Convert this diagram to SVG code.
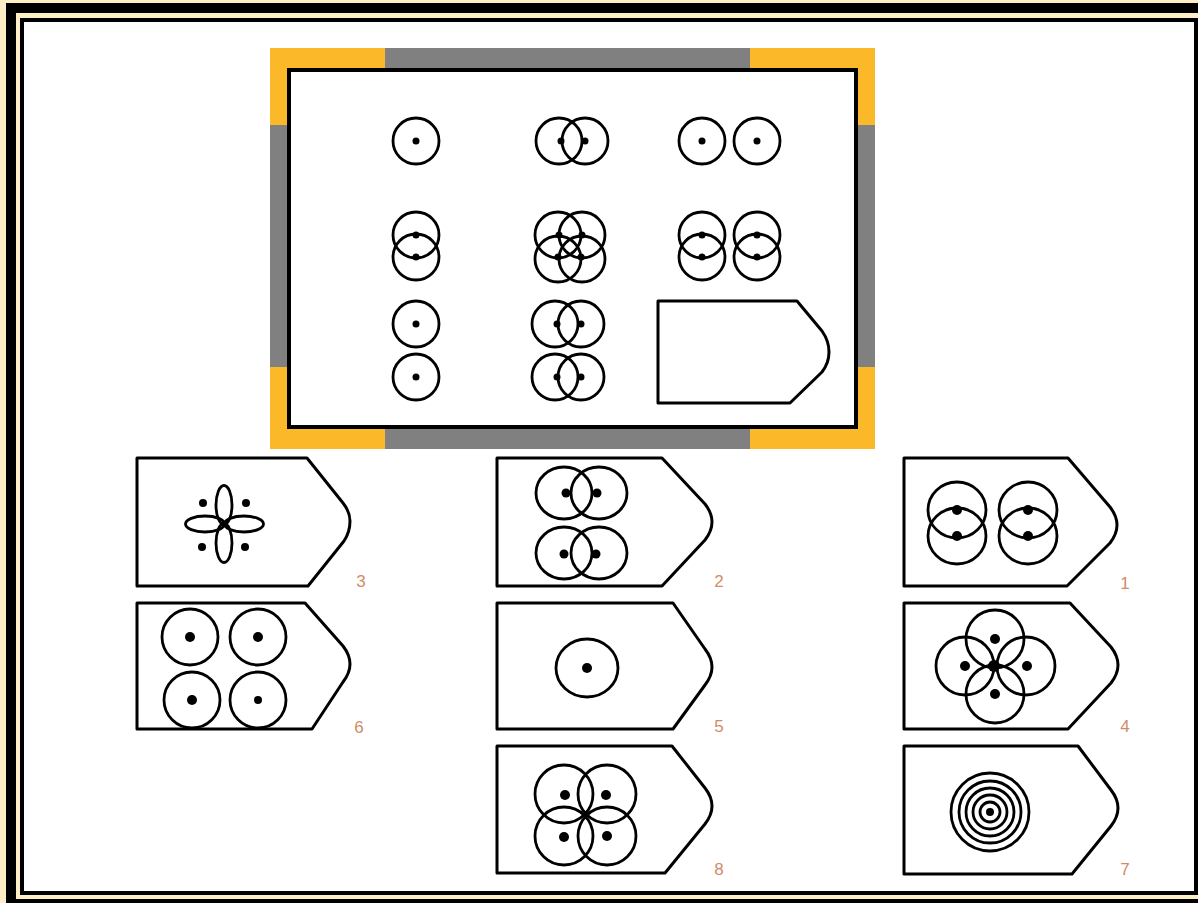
<svg xmlns="http://www.w3.org/2000/svg" width="1198" height="903" viewBox="0 0 1198 903">
<style>
.ln{fill:none;stroke:#000;stroke-width:2.8}
.card{fill:#fff;stroke:#000;stroke-width:3;stroke-linejoin:round}
.dot{fill:#000}
.lbl{font-family:"Liberation Sans",Arial,sans-serif;font-size:17px;fill:#d08c68;text-anchor:middle}
</style>
<g id="outer-frame">
<rect x="0" y="0" width="1198" height="903" fill="#fdeec6"/>
<rect x="6" y="3" width="1210" height="910" fill="#000"/>
<rect x="16" y="13" width="1190" height="886" fill="#fdeec6"/>
<rect x="20" y="18" width="1178" height="877" fill="#000"/>
<rect x="24" y="22" width="1170" height="869" fill="#fff"/>
</g>
<g id="matrix-frame">
<rect x="270" y="48" width="605" height="401" fill="#fbb829"/>
<rect x="385" y="48" width="365" height="20" fill="#808080"/>
<rect x="385" y="429" width="365" height="20" fill="#808080"/>
<rect x="270" y="125" width="17" height="242" fill="#808080"/>
<rect x="858" y="125" width="17" height="242" fill="#808080"/>
<rect x="289" y="70" width="567" height="357" fill="#fff" stroke="#000" stroke-width="4"/>
</g>
<g id="cell-1-1">
<circle class="ln" cx="416" cy="141" r="23"/>
<circle class="dot" cx="416" cy="141" r="3.5"/>
</g>
<g id="cell-1-2">
<circle class="ln" cx="559" cy="141" r="23"/>
<circle class="ln" cx="585" cy="141" r="23"/>
<circle class="dot" cx="561" cy="141" r="3.5"/>
<circle class="dot" cx="585" cy="141" r="3.5"/>
</g>
<g id="cell-1-3">
<circle class="ln" cx="702" cy="141" r="23"/>
<circle class="ln" cx="757" cy="141" r="23"/>
<circle class="dot" cx="702" cy="141" r="3.5"/>
<circle class="dot" cx="757" cy="141" r="3.5"/>
</g>
<g id="cell-2-1">
<circle class="ln" cx="416" cy="235" r="23"/>
<circle class="ln" cx="416" cy="257" r="23"/>
<circle class="dot" cx="416" cy="235" r="3.5"/>
<circle class="dot" cx="416" cy="257" r="3.5"/>
</g>
<g id="cell-2-2">
<circle class="ln" cx="558" cy="235" r="23"/>
<circle class="ln" cx="582" cy="235" r="23"/>
<circle class="ln" cx="558" cy="259" r="23"/>
<circle class="ln" cx="582" cy="259" r="23"/>
<circle class="dot" cx="559" cy="235" r="3.5"/>
<circle class="dot" cx="582" cy="235" r="3.5"/>
<circle class="dot" cx="558" cy="257" r="3.5"/>
<circle class="dot" cx="581" cy="257" r="3.5"/>
</g>
<g id="cell-2-3">
<circle class="ln" cx="702" cy="235" r="23"/>
<circle class="ln" cx="702" cy="257" r="23"/>
<circle class="ln" cx="757" cy="235" r="23"/>
<circle class="ln" cx="757" cy="257" r="23"/>
<circle class="dot" cx="702" cy="235" r="3.5"/>
<circle class="dot" cx="702" cy="257" r="3.5"/>
<circle class="dot" cx="757" cy="235" r="3.5"/>
<circle class="dot" cx="757" cy="257" r="3.5"/>
</g>
<g id="cell-3-1">
<circle class="ln" cx="416" cy="324" r="23"/>
<circle class="ln" cx="416" cy="377" r="23"/>
<circle class="dot" cx="416" cy="324" r="3.5"/>
<circle class="dot" cx="416" cy="377" r="3.5"/>
</g>
<g id="cell-3-2">
<circle class="ln" cx="555" cy="324" r="23"/>
<circle class="ln" cx="581" cy="324" r="23"/>
<circle class="ln" cx="555" cy="377" r="23"/>
<circle class="ln" cx="581" cy="377" r="23"/>
<circle class="dot" cx="557" cy="324" r="3.5"/>
<circle class="dot" cx="581" cy="324" r="3.5"/>
<circle class="dot" cx="557" cy="377" r="3.5"/>
<circle class="dot" cx="581" cy="377" r="3.5"/>
</g>
<g id="cell-3-3">
<path class="card" stroke-width="2.5" d="M658,301 H797 L822,331 Q829,341 829,352 Q829,363 822,372 L790,403 H658 Z"/>
</g>
<g id="option-3">
<path class="card" d="M137,458 H307 L343,503 Q350,512 350,521 Q350,532 344,541 L308,586 H137 Z"/>
<ellipse class="ln" cx="224" cy="505" rx="8" ry="19.5"/>
<ellipse class="ln" cx="224" cy="543" rx="8" ry="19.5"/>
<ellipse class="ln" cx="205" cy="524" rx="19.5" ry="8"/>
<ellipse class="ln" cx="244" cy="524" rx="19.5" ry="8"/>
<circle class="dot" cx="224" cy="524" r="3"/>
<circle class="dot" cx="203" cy="503" r="4"/>
<circle class="dot" cx="246" cy="503" r="4"/>
<circle class="dot" cx="202" cy="547" r="4"/>
<circle class="dot" cx="245" cy="547" r="4"/>
<text class="lbl" x="361" y="587">3</text>
</g>
<g id="option-6">
<path class="card" d="M137,603 H305 L343,646 Q350,655 350,664 Q350,673 343,682 L312,729 H137 Z"/>
<circle class="ln" cx="190" cy="637" r="28"/>
<circle class="ln" cx="258" cy="637" r="28"/>
<circle class="ln" cx="192" cy="700" r="28"/>
<circle class="ln" cx="258" cy="700" r="28"/>
<circle class="dot" cx="190" cy="637" r="5"/>
<circle class="dot" cx="258" cy="637" r="5"/>
<circle class="dot" cx="192" cy="700" r="5"/>
<circle class="dot" cx="258" cy="700" r="4"/>
<text class="lbl" x="359" y="733">6</text>
</g>
<g id="option-2">
<path class="card" d="M497,458 H662 L705,504 Q712,513 712,522 Q712,531 705,540 L662,586 H497 Z"/>
<ellipse class="ln" cx="564" cy="493" rx="28" ry="26"/>
<ellipse class="ln" cx="599" cy="493" rx="28" ry="26"/>
<ellipse class="ln" cx="564" cy="553" rx="28" ry="26"/>
<ellipse class="ln" cx="599" cy="553" rx="28" ry="26"/>
<circle class="dot" cx="566" cy="493" r="4.5"/>
<circle class="dot" cx="597" cy="493" r="4.5"/>
<circle class="dot" cx="564" cy="554" r="4.5"/>
<circle class="dot" cx="596" cy="554" r="4.5"/>
<text class="lbl" x="719" y="587">2</text>
</g>
<g id="option-5">
<path class="card" d="M497,603 H673 L705,649 Q712,658 712,667 Q712,676 705,685 L673,729 H497 Z"/>
<ellipse class="ln" cx="587" cy="668" rx="31" ry="29"/>
<circle class="dot" cx="587" cy="668" r="5"/>
<text class="lbl" x="719" y="732">5</text>
</g>
<g id="option-8">
<path class="card" d="M497,746 H672 L705,788 Q712,797 712,806 Q712,815 705,824 L665,873 H497 Z"/>
<circle class="ln" cx="564" cy="794" r="29"/>
<circle class="ln" cx="607" cy="794" r="29"/>
<circle class="ln" cx="564" cy="836" r="29"/>
<circle class="ln" cx="607" cy="836" r="29"/>
<circle class="dot" cx="565" cy="795" r="5"/>
<circle class="dot" cx="606" cy="795" r="5"/>
<circle class="dot" cx="564" cy="837" r="5"/>
<circle class="dot" cx="607" cy="836" r="5"/>
<text class="lbl" x="719" y="875">8</text>
</g>
<g id="option-1">
<path class="card" d="M904,458 H1068 L1110,507 Q1117,516 1117,525 Q1117,534 1110,543 L1067,586 H904 Z"/>
<ellipse class="ln" cx="957" cy="510" rx="29" ry="28"/>
<ellipse class="ln" cx="957" cy="536" rx="29" ry="28"/>
<ellipse class="ln" cx="1028" cy="510" rx="29" ry="28"/>
<ellipse class="ln" cx="1028" cy="536" rx="29" ry="28"/>
<circle class="dot" cx="957" cy="510" r="5"/>
<circle class="dot" cx="957" cy="536" r="5"/>
<circle class="dot" cx="1028" cy="510" r="5"/>
<circle class="dot" cx="1028" cy="536" r="5"/>
<text class="lbl" x="1125" y="589">1</text>
</g>
<g id="option-4">
<path class="card" d="M904,603 H1070 L1111,647 Q1118,656 1118,665 Q1118,674 1111,683 L1068,729 H904 Z"/>
<circle class="ln" cx="995" cy="639" r="29"/>
<circle class="ln" cx="995" cy="694" r="29"/>
<circle class="ln" cx="965" cy="666" r="29"/>
<circle class="ln" cx="1026" cy="666" r="29"/>
<circle class="dot" cx="995" cy="639" r="5"/>
<circle class="dot" cx="995" cy="694" r="5"/>
<circle class="dot" cx="965" cy="666" r="5"/>
<circle class="dot" cx="1027" cy="666" r="5"/>
<circle class="dot" cx="994" cy="666" r="6"/>
<text class="lbl" x="1125" y="732">4</text>
</g>
<g id="option-7">
<path class="card" d="M904,746 H1078 L1111,790 Q1118,799 1118,808 Q1118,817 1111,826 L1072,874 H904 Z"/>
<circle class="ln" stroke-width="3" cx="990" cy="812" r="39"/>
<circle class="ln" stroke-width="3" cx="990" cy="812" r="31"/>
<circle class="ln" stroke-width="3" cx="990" cy="812" r="24"/>
<circle class="ln" stroke-width="3" cx="990" cy="812" r="17"/>
<circle class="ln" stroke-width="3" cx="990" cy="812" r="10"/>
<circle class="dot" cx="990" cy="812" r="4"/>
<text class="lbl" x="1125" y="875">7</text>
</g>
</svg>
